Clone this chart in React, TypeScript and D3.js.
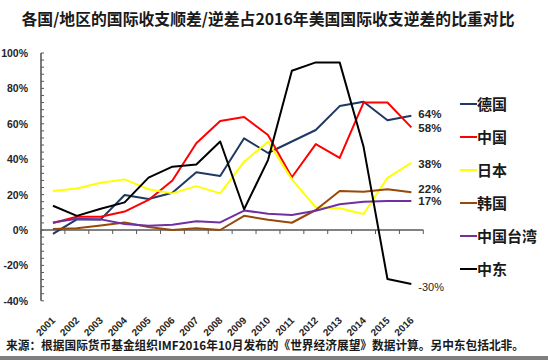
import * as d3 from "d3";

const YEARS = ["2001", "2002", "2003", "2004", "2005", "2006", "2007", "2008", "2009", "2010", "2011", "2012", "2013", "2014", "2015", "2016"];

// 各国/地区占美国逆差比重 (%)
const GERMANY = [-2.2, 6, 6, 19.8, 17.5, 21, 32.6, 30.5, 51.8, 43.5, 50, 56.5, 70, 72.5, 62, 64.5];
const CHINA = [4, 7.5, 7.5, 10.4, 17, 28, 49, 61.6, 63.8, 53.7, 29.8, 48.5, 40.7, 72, 72, 58];
const JAPAN = [22, 23.5, 26.7, 28.6, 23, 20.7, 24.8, 20.7, 38.6, 49.9, 28.6, 12.8, 12.3, 9, 29.5, 38];
const KOREA = [0.5, 1, 2.5, 4.3, 1.7, 0, 1, 0, 8, 5.8, 4.1, 11.3, 22, 21.6, 23, 21.3];
const TAIWAN = [4.3, 6.3, 6, 3.4, 2.4, 3, 4.9, 4.3, 11, 9.2, 8.5, 10.9, 14.5, 16, 16.4, 16.4];
const MIDEAST = [13.7, 8, 12, 15.6, 29.6, 35.8, 37, 50, 11.7, 39.5, 90, 94.7, 94.7, 47, -27.7, -30.5];

const SERIES_NAMES = ["德国", "中国", "日本", "韩国", "中国台湾", "中东"];
const SERIES_COLORS = ["#1f3864", "#ff0000", "#ffff00", "#984807", "#7030a0", "#000000"];
const SERIES_VALUES = [GERMANY, CHINA, JAPAN, KOREA, TAIWAN, MIDEAST];

const END_LABELS = ["64%", "58%", "38%", "22%", "17%", "-30%"];
const END_LABEL_DY = [-1.5, 0.5, 1, -3, 0, 3];

const Y_TICKS = [100, 80, 60, 40, 20, 0, -20, -40];

const W = 548;
const H = 362;
const CJK = "'Noto Sans CJK SC', 'Noto Sans', sans-serif";
const NUM = "'Liberation Sans', Arial, sans-serif";

export default function App() {
  const x = d3.scaleBand<string>().domain(YEARS).range([41, 423.3]);
  const y = d3.scaleLinear().domain([-40, 100]).range([300.8, 53]);
  const cx = (i: number) => (x(YEARS[i]) ?? 0) + x.bandwidth() / 2;

  const line = d3
    .line<number>()
    .x((_, i) => cx(i))
    .y((d) => y(d));

  const minor = d3.range(-40, 101, 4);
  const edges = d3.range(YEARS.length + 1).map((i) => 41 + i * x.bandwidth());
  const last = YEARS.length - 1;

  return (
    <svg width={W} height={H} style={{ position: "absolute", left: 0, top: 0, background: "#fff" }}>
      <text x={268} y={25} textAnchor="middle" fontFamily={CJK} fontWeight="bold" fontSize={16} fill="#1a1a1a" textLength={493} lengthAdjust="spacingAndGlyphs">
        各国/地区的国际收支顺差/逆差占2016年美国国际收支逆差的比重对比
      </text>

      {/* y axis */}
      <line x1={41} x2={41} y1={y(100)} y2={y(-40)} stroke="#595959" strokeWidth={1.6} />
      {minor.map((v) => (
        <line key={v} x1={41} x2={44} y1={y(v)} y2={y(v)} stroke="#595959" strokeWidth={1} />
      ))}
      {Y_TICKS.map((v) => (
        <text key={v} x={28} y={y(v) + 4} textAnchor="end" fontFamily={NUM} fontWeight="bold" fontSize={10.5} fill="#262626">
          {v}%
        </text>
      ))}

      {/* x axis */}
      <line x1={41} x2={423.3} y1={y(0)} y2={y(0)} stroke="#595959" strokeWidth={1.5} />
      {edges.map((e, i) => (
        <line key={i} x1={e} x2={e} y1={y(0)} y2={y(0) + 4} stroke="#595959" strokeWidth={1} />
      ))}
      {YEARS.map((yr, i) => (
        <text key={yr} transform={`translate(${cx(i) + 3},${321}) rotate(-45)`} textAnchor="end" fontFamily={NUM} fontWeight="bold" fontSize={10} fill="#262626">
          {yr}
        </text>
      ))}

      {/* lines */}
      {SERIES_VALUES.map((vals, s) => (
        <path key={s} d={line(vals) ?? ""} fill="none" stroke={SERIES_COLORS[s]} strokeWidth={2} strokeLinejoin="round" />
      ))}

      {/* end labels */}
      {SERIES_VALUES.map((vals, s) => (
        <text
          key={s}
          x={cx(last) + 7}
          y={y(vals[last]) + 4 + END_LABEL_DY[s]}
          fontFamily={NUM}
          fontWeight={s === 5 ? "normal" : "bold"}
          fontSize={s === 5 ? 11 : 11.5}
          fill="#262626"
        >
          {END_LABELS[s]}
        </text>
      ))}

      {/* legend */}
      {SERIES_NAMES.map((name, s) => (
        <g key={name} transform={`translate(460,${104 + s * 33})`}>
          <line x1={0} x2={17} y1={0} y2={0} stroke={SERIES_COLORS[s]} strokeWidth={2} />
          <text x={17} y={5.5} fontFamily={CJK} fontWeight="bold" fontSize={15} fill="#1a1a1a">
            {name}
          </text>
        </g>
      ))}

      <text x={6} y={350} fontFamily={CJK} fontWeight="bold" fontSize={12} fill="#1a1a1a" textLength={518} lengthAdjust="spacingAndGlyphs">
        来源：根据国际货币基金组织IMF2016年10月发布的《世界经济展望》数据计算。另中东包括北非。
      </text>
      <rect x={0} y={356} width={W} height={4} fill="#7f7f7f" />
    </svg>
  );
}
